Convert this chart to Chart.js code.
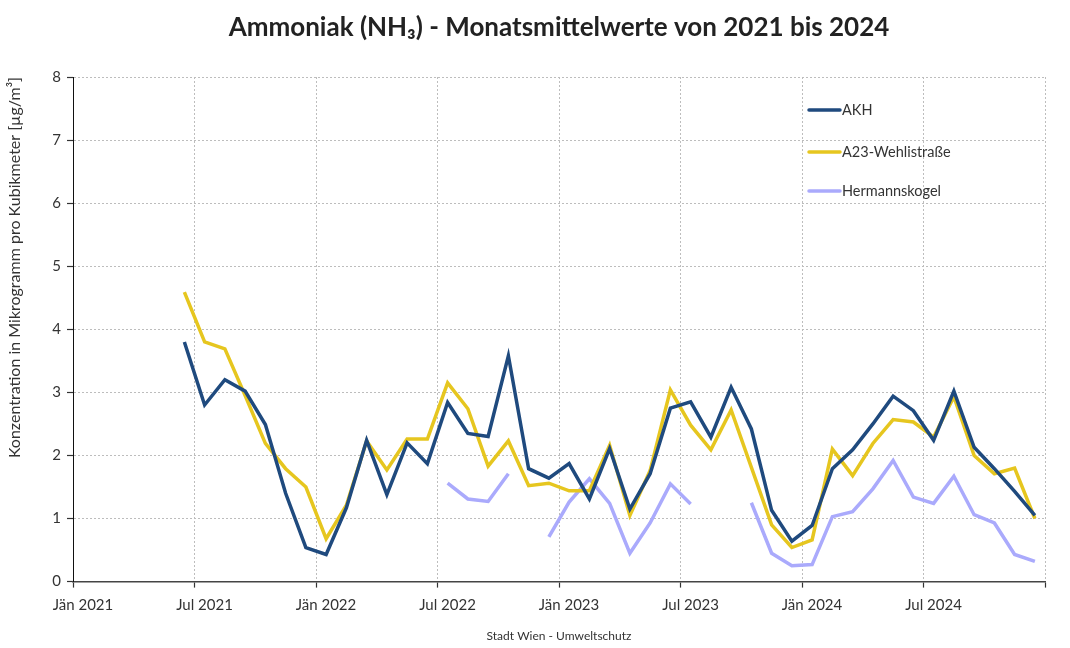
<!DOCTYPE html>
<html>
<head>
<meta charset="utf-8">
<script src="https://cdn.jsdelivr.net/npm/chart.js@4"></script>
<style>
  html, body { margin: 0; padding: 0; background: #fff; }
  canvas { display: block; }
</style>
</head>
<body>
<canvas id="c" width="1070" height="648"></canvas>
<script>
// ---- data ----
const months = [
  '2021-06','2021-07','2021-08','2021-09','2021-10','2021-11','2021-12',
  '2022-01','2022-02','2022-03','2022-04','2022-05','2022-06','2022-07','2022-08','2022-09','2022-10','2022-11','2022-12',
  '2023-01','2023-02','2023-03','2023-04','2023-05','2023-06','2023-07','2023-08','2023-09','2023-10','2023-11','2023-12',
  '2024-01','2024-02','2024-03','2024-04','2024-05','2024-06','2024-07','2024-08','2024-09','2024-10','2024-11','2024-12'
];
const akh = [
  3.80, 2.80, 3.20, 3.02, 2.49, 1.40, 0.54,
  0.43, 1.17, 2.24, 1.38, 2.20, 1.87, 2.84, 2.35, 2.30, 3.58, 1.79, 1.64,
  1.87, 1.31, 2.11, 1.15, 1.71, 2.75, 2.85, 2.29, 3.08, 2.42, 1.13, 0.64,
  0.89, 1.79, 2.09, 2.50, 2.94, 2.71, 2.24, 3.02, 2.13, 1.79, 1.43, 1.05
];
const a23 = [
  4.59, 3.80, 3.69, 2.95, 2.19, 1.79, 1.50,
  0.68, 1.21, 2.23, 1.77, 2.26, 2.26, 3.15, 2.74, 1.83, 2.23, 1.52, 1.56,
  1.44, 1.44, 2.16, 1.05, 1.76, 3.04, 2.48, 2.09, 2.72, 1.81, 0.90, 0.54,
  0.66, 2.10, 1.68, 2.19, 2.57, 2.53, 2.29, 2.93, 2.00, 1.71, 1.80, 1.00
];
const hermannskogel = [
  null, null, null, null, null, null, null,
  null, null, null, null, null, null, 1.56, 1.31, 1.27, 1.71, null, 0.71,
  1.26, 1.63, 1.24, 0.45, 0.93, 1.55, 1.23, null, null, 1.25, 0.45, 0.25,
  0.27, 1.03, 1.11, 1.47, 1.92, 1.34, 1.24, 1.67, 1.06, 0.93, 0.43, 0.32
];
const seriesNames = ['AKH', 'A23-Wehlistraße', 'Hermannskogel'];
const tickLabels = ['Jän 2021','Jul 2021','Jän 2022','Jul 2022','Jän 2023','Jul 2023','Jän 2024','Jul 2024',''];
const titleText = 'Ammoniak (NH₃) - Monatsmittelwerte von 2021 bis 2024';
const yTitle = 'Konzentration in Mikrogramm pro Kubikmeter [µg/m³]';
const sourceText = 'Stadt Wien - Umweltschutz';

// month string -> position on a linear month axis (0 = start of Jan 2021, mid-month points)
function monthPos(s) {
  const [y, m] = s.split('-').map(Number);
  return (y - 2021) * 12 + (m - 1) + 0.5;
}
function toPoints(arr) {
  return months.map((m, i) => ({ x: monthPos(m), y: arr[i] }));
}

Chart.defaults.font.family = 'Lato';
Chart.defaults.color = '#222';

const insideLegend = {
  id: 'insideLegend',
  afterDraw(chart) {
    const { ctx, chartArea } = chart;
    const x0 = chartArea.right - 236;
    const rows = [33, 75, 114];
    ctx.save();
    chart.data.datasets.forEach((ds, i) => {
      const y = chartArea.top + rows[i];
      ctx.strokeStyle = ds.borderColor;
      ctx.lineWidth = 3.5;
      ctx.lineCap = 'round';
      ctx.beginPath();
      ctx.moveTo(x0, y);
      ctx.lineTo(x0 + 31, y);
      ctx.stroke();
      ctx.fillStyle = '#333';
      ctx.font = '14.5px Lato';
      ctx.textBaseline = 'middle';
      ctx.textAlign = 'left';
      ctx.fillText(ds.label, x0 + 33, y);
    });
    ctx.restore();
  }
};

const gridCommon = {
  color: '#bdbdbd',
  lineWidth: 1,
  tickLength: 6,
  tickColor: '#333',
  tickWidth: 1.2
};

new Chart(document.getElementById('c'), {
  type: 'line',
  data: {
    datasets: [
      { label: seriesNames[0], data: toPoints(akh), borderColor: '#1f4a7e', borderWidth: 3.5 },
      { label: seriesNames[1], data: toPoints(a23), borderColor: '#e6c61f', borderWidth: 3.5 },
      { label: seriesNames[2], data: toPoints(hermannskogel), borderColor: '#aaaafc', borderWidth: 3.5 }
    ]
  },
  options: {
    responsive: false,
    animation: false,
    devicePixelRatio: 1,
    spanGaps: false,
    elements: {
      point: { radius: 0, hoverRadius: 0 },
      line: { tension: 0, borderJoinStyle: 'miter', fill: false }
    },
    layout: { padding: { left: 0, right: 25, top: 0, bottom: 0 } },
    plugins: {
      legend: { display: false },
      tooltip: { enabled: false },
      title: {
        display: true,
        fullSize: false,
        text: titleText,
        font: { family: 'Lato', size: 26, weight: 'bold' },
        color: '#222',
        padding: { top: 12, bottom: 33.8 }
      },
      subtitle: {
        display: true,
        fullSize: false,
        position: 'bottom',
        text: sourceText,
        font: { family: 'Lato', size: 12 },
        color: '#333',
        padding: { top: 14, bottom: 5 }
      }
    },
    scales: {
      x: {
        type: 'linear',
        min: 0,
        max: 48,
        grid: gridCommon,
        border: { display: true, color: '#444', width: 1.5, dash: [2, 2] },
        ticks: {
          stepSize: 6,
          autoSkip: false,
          maxRotation: 0,
          padding: 9,
          labelOffset: 10,
          font: { size: 15 },
          color: '#333',
          callback: (v) => tickLabels[Math.round(v / 6)] ?? ''
        },
        afterFit: (s) => { s.height = 33; }
      },
      y: {
        min: 0,
        max: 8,
        grid: gridCommon,
        border: { display: true, color: '#111', width: 1, dash: [2, 2] },
        ticks: {
          stepSize: 1,
          padding: 6,
          font: { size: 15 },
          color: '#333'
        },
        title: {
          display: true,
          text: yTitle,
          align: 'end',
          font: { size: 16 },
          color: '#333',
          padding: { top: 5, bottom: 0 }
        },
        afterFit: (s) => { s.width = 73; }
      }
    }
  },
  plugins: [insideLegend]
});
</script>
</body>
</html>
